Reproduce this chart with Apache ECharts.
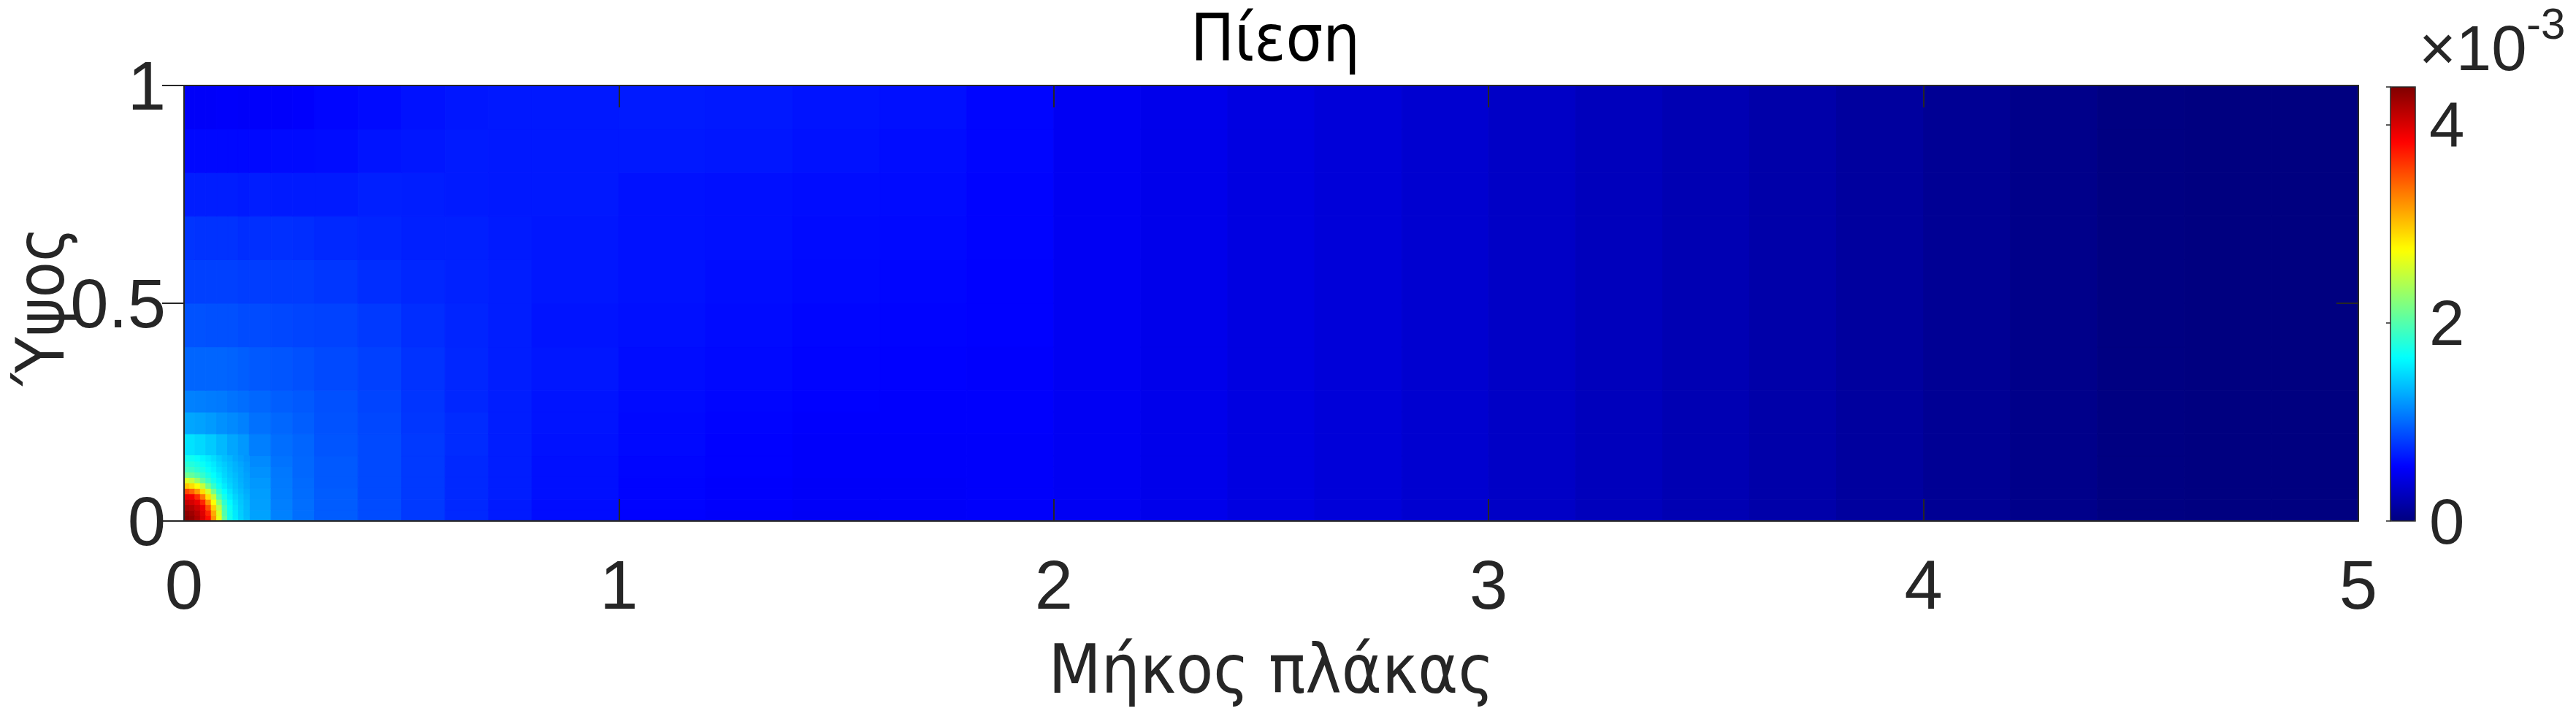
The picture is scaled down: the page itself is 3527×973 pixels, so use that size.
<!DOCTYPE html>
<html>
<head>
<meta charset="utf-8">
<script src="https://cdn.jsdelivr.net/npm/echarts@6/dist/echarts.min.js"></script>
<style>
  html, body { margin: 0; padding: 0; background: #ffffff; }
  #chart { width: 3527px; height: 973px; }
</style>
</head>
<body>
<div id="chart"></div>
<script>
// ---- Data ----
const titleText = 'Πίεση';
const xName = 'Μήκος πλάκας';
const yName = 'Ύψος';
const xTicks = [0, 1, 2, 3, 4, 5];
const yTicks = [0, 0.5, 1];
const colorTicks = [0, 2, 4];          // in units of 1e-3
const colorMin = 0;
const colorMax = 4.38;                 // top of colour bar, units of 1e-3
const colorExponent = '-3';

// coarse cell edges
const xEdges = [0, 0.025, 0.05, 0.075, 0.1, 0.125, 0.15, 0.2, 0.25, 0.3, 0.4, 0.5, 0.6, 0.7, 0.8, 1.0,
                1.2, 1.4, 1.6, 1.8, 2.0, 2.2, 2.4, 2.6, 2.8, 3.0, 3.2, 3.4, 3.6, 3.8, 4.0, 4.2, 4.4, 4.6, 4.8, 5.0];
const yEdges = [0, 0.025, 0.05, 0.075, 0.1, 0.125, 0.15, 0.2, 0.25, 0.3, 0.4, 0.5, 0.6, 0.7, 0.8, 0.9, 1.0];

// coarse pressure per cell (units of 1e-3), rows from bottom (y=0) to top (y=1)
const row00 = [4.33,4.08,3.66,2.43,1.70,1.45,1.24,1.10,1.02,0.94,0.87,0.79,0.72,0.66,0.60,0.55,0.53,0.51,0.52,0.53,0.50,0.46,0.42,0.385,0.345,0.30,0.26,0.22,0.175,0.13,0.085,0.045,0.01,0,0];
const row01 = [4.19,3.93,3.37,2.27,1.66,1.43,1.23,1.09,1.02,0.94,0.87,0.79,0.72,0.66,0.60,0.56,0.54,0.52,0.52,0.53,0.50,0.46,0.42,0.385,0.345,0.30,0.26,0.22,0.175,0.13,0.085,0.045,0.01,0,0];
const row02 = [3.88,3.70,2.84,1.98,1.57,1.38,1.22,1.08,1.01,0.94,0.86,0.79,0.72,0.67,0.61,0.56,0.54,0.52,0.52,0.53,0.50,0.46,0.42,0.385,0.345,0.30,0.26,0.22,0.175,0.13,0.085,0.045,0.01,0,0];
const row03 = [3.29,2.87,2.22,1.70,1.49,1.33,1.20,1.07,1.00,0.93,0.86,0.79,0.72,0.67,0.61,0.56,0.54,0.52,0.52,0.53,0.50,0.46,0.42,0.385,0.345,0.30,0.26,0.22,0.175,0.13,0.085,0.045,0.01,0,0];
const row04 = [2.32,2.09,1.77,1.55,1.40,1.29,1.17,1.06,0.99,0.93,0.86,0.79,0.72,0.67,0.61,0.57,0.55,0.53,0.53,0.53,0.50,0.46,0.42,0.385,0.345,0.30,0.26,0.22,0.175,0.13,0.085,0.045,0.01,0,0];
const row05 = [1.73,1.65,1.53,1.42,1.31,1.23,1.14,1.04,0.99,0.93,0.86,0.79,0.72,0.67,0.61,0.57,0.55,0.53,0.53,0.53,0.50,0.46,0.42,0.385,0.345,0.30,0.26,0.22,0.175,0.13,0.085,0.045,0.01,0,0];
const row06 = [1.52,1.48,1.42,1.34,1.26,1.20,1.09,1.02,0.98,0.91,0.86,0.79,0.73,0.67,0.62,0.58,0.55,0.53,0.53,0.53,0.50,0.46,0.42,0.385,0.345,0.30,0.26,0.22,0.175,0.13,0.085,0.045,0.01,0,0];
const row07 = [1.26,1.24,1.21,1.17,1.14,1.10,1.03,0.99,0.95,0.90,0.85,0.78,0.73,0.67,0.63,0.58,0.56,0.54,0.54,0.54,0.50,0.46,0.42,0.385,0.345,0.30,0.26,0.22,0.175,0.13,0.085,0.045,0.01,0,0];
const row08 = [1.10,1.09,1.08,1.07,1.04,1.02,0.99,0.95,0.93,0.89,0.84,0.77,0.71,0.67,0.63,0.59,0.57,0.55,0.54,0.54,0.50,0.46,0.42,0.385,0.345,0.30,0.26,0.22,0.175,0.13,0.085,0.045,0.01,0,0];
const row09 = [0.98,0.98,0.98,0.98,0.97,0.95,0.93,0.91,0.89,0.86,0.82,0.76,0.71,0.67,0.64,0.60,0.58,0.56,0.55,0.54,0.50,0.46,0.42,0.385,0.345,0.30,0.26,0.22,0.175,0.13,0.085,0.045,0.01,0,0];
const row10 = [0.90,0.90,0.89,0.89,0.89,0.87,0.87,0.85,0.84,0.83,0.79,0.74,0.70,0.67,0.63,0.61,0.59,0.57,0.56,0.55,0.50,0.46,0.42,0.385,0.345,0.30,0.26,0.22,0.175,0.13,0.085,0.045,0.01,0,0];
const row11 = [0.82,0.82,0.82,0.82,0.82,0.81,0.81,0.80,0.80,0.78,0.74,0.71,0.69,0.67,0.64,0.62,0.60,0.58,0.57,0.55,0.50,0.46,0.42,0.385,0.345,0.30,0.26,0.22,0.175,0.13,0.085,0.045,0.01,0,0];
const row12 = [0.77,0.76,0.76,0.76,0.76,0.74,0.75,0.75,0.74,0.72,0.70,0.68,0.68,0.66,0.64,0.62,0.61,0.59,0.58,0.56,0.50,0.46,0.42,0.385,0.345,0.30,0.26,0.22,0.175,0.13,0.085,0.045,0.01,0,0];
const row13 = [0.67,0.67,0.67,0.67,0.67,0.66,0.67,0.66,0.66,0.66,0.68,0.67,0.66,0.65,0.65,0.62,0.61,0.60,0.59,0.56,0.50,0.46,0.42,0.385,0.345,0.30,0.26,0.22,0.175,0.13,0.085,0.045,0.01,0,0];
const row14 = [0.58,0.58,0.58,0.58,0.58,0.58,0.58,0.59,0.59,0.60,0.63,0.64,0.66,0.65,0.65,0.65,0.64,0.62,0.60,0.57,0.50,0.46,0.42,0.385,0.345,0.30,0.26,0.22,0.175,0.13,0.085,0.045,0.01,0,0];
const row15 = [0.52,0.52,0.52,0.53,0.53,0.52,0.53,0.53,0.54,0.57,0.59,0.62,0.64,0.65,0.65,0.66,0.65,0.63,0.61,0.57,0.50,0.46,0.42,0.385,0.345,0.30,0.26,0.22,0.175,0.13,0.085,0.045,0.01,0,0];
const pressureRows = [row00,row01,row02,row03,row04,row05,row06,row07,row08,row09,row10,row11,row12,row13,row14,row15];

// fine cells around the hot spot at the leading edge (x < 0.15, y < 0.15)
const fineEdges = [0, 0.0125, 0.025, 0.0375, 0.05, 0.0625, 0.075, 0.0875, 0.1, 0.1125, 0.125, 0.1375, 0.15];
const fine00 = [4.35,4.30,4.18,4.01,3.78,3.20,2.64,2.06,1.73,1.56,1.44,1.36];
const fine01 = [4.31,4.25,4.14,3.97,3.68,3.11,2.58,1.99,1.71,1.55,1.43,1.35];
const fine02 = [4.21,4.16,4.05,3.90,3.49,2.94,2.45,1.93,1.68,1.53,1.42,1.34];
const fine03 = [4.08,4.02,3.92,3.67,3.22,2.73,2.24,1.83,1.63,1.50,1.40,1.33];
const fine04 = [3.91,3.87,3.65,3.31,2.87,2.48,1.98,1.73,1.57,1.46,1.38,1.31];
const fine05 = [3.53,3.41,3.18,2.87,2.56,2.13,1.82,1.64,1.52,1.42,1.35,1.29];
const fine06 = [2.98,2.88,2.72,2.49,2.14,1.87,1.69,1.56,1.46,1.39,1.32,1.26];
const fine07 = [2.58,2.49,2.30,2.05,1.88,1.72,1.61,1.51,1.43,1.37,1.30,1.25];
const fine08 = [2.12,2.07,1.98,1.86,1.75,1.65,1.56,1.47,1.40,1.35,1.29,1.24];
const fine09 = [1.92,1.89,1.82,1.75,1.67,1.59,1.51,1.45,1.38,1.32,1.28,1.22];
const fine10 = [1.82,1.79,1.74,1.68,1.61,1.55,1.47,1.42,1.36,1.31,1.26,1.21];
const fine11 = [1.72,1.70,1.66,1.61,1.56,1.50,1.43,1.37,1.33,1.27,1.23,1.19];
const fineRows = [fine00,fine01,fine02,fine03,fine04,fine05,fine06,fine07,fine08,fine09,fine10,fine11];

// jet colour map stops
const jetColors = ['#000080','#0000ff','#0080ff','#00ffff','#80ff80','#ffff00','#ff8000','#ff0000','#800000'];

// ---- Build cell list for the custom series ----
const fineLimit = fineEdges[fineEdges.length - 1];
const cells = [];
pressureRows.forEach((row, j) => {
  row.forEach((v, i) => {
    const covered = xEdges[i + 1] <= fineLimit && yEdges[j + 1] <= fineLimit;
    if (!covered) cells.push([xEdges[i], xEdges[i + 1], yEdges[j], yEdges[j + 1], v]);
  });
});
fineRows.forEach((row, j) => {
  row.forEach((v, i) => {
    cells.push([fineEdges[i], fineEdges[i + 1], fineEdges[j], fineEdges[j + 1], v]);
  });
});

const TXT = '#262626';
const tickFont = '"Liberation Sans", Arial, Helvetica, sans-serif';
const labelFont = '"DejaVu Sans Condensed", "DejaVu Sans", sans-serif';

function frameAxis(extra) {
  return Object.assign({
    axisLine: { show: true, onZero: false, lineStyle: { color: TXT, width: 2 } },
    axisTick: { show: true, inside: true, length: 30, lineStyle: { color: TXT, width: 2 } },
    splitLine: { show: false },
    z: 10
  }, extra);
}

const chart = echarts.init(document.getElementById('chart'), null, { renderer: 'svg' });

chart.setOption({
  animation: false,
  backgroundColor: '#ffffff',
  title: {
    text: titleText,
    left: 1741,
    top: 2,
    textAlign: 'center',
    textStyle: { fontFamily: labelFont, fontSize: 89, fontWeight: 'normal', color: '#000000' }
  },
  grid: [
    { left: 252, top: 117, width: 2977, height: 596, containLabel: false, outerBoundsMode: 'none' },
    { left: 3273, top: 119, width: 34, height: 594, containLabel: false, outerBoundsMode: 'none',
      show: true, borderColor: TXT, borderWidth: 1.5, backgroundColor: 'transparent', z: 10 }
  ],
  xAxis: [
    frameAxis({
      gridIndex: 0, type: 'value', position: 'bottom', min: xTicks[0], max: xTicks[xTicks.length - 1], interval: 1,
      axisLabel: { show: true, fontSize: 94, fontFamily: tickFont, color: TXT, margin: 40 },
      name: xName, nameLocation: 'middle', nameGap: 156,
      nameTextStyle: { fontSize: 93, fontFamily: labelFont, color: TXT }
    }),
    frameAxis({
      gridIndex: 0, type: 'value', position: 'top', min: xTicks[0], max: xTicks[xTicks.length - 1], interval: 1,
      axisLabel: { show: false }
    }),
    { gridIndex: 1, type: 'value', min: 0, max: 1, show: false }
  ],
  yAxis: [
    frameAxis({
      gridIndex: 0, type: 'value', position: 'left', min: yTicks[0], max: yTicks[yTicks.length - 1], interval: 0.5,
      axisTick: { show: true, inside: true, length: -30, lineStyle: { color: TXT, width: 2 } },
      axisLabel: { show: true, fontSize: 94, fontFamily: tickFont, color: TXT, margin: 25 }
    }),
    frameAxis({
      gridIndex: 0, type: 'value', position: 'right', min: yTicks[0], max: yTicks[yTicks.length - 1], interval: 0.5,
      axisLabel: { show: false }
    }),
    {
      gridIndex: 1, type: 'value', position: 'right', min: colorMin, max: colorMax, interval: 2,
      axisLine: { show: false },
      axisTick: { show: true, inside: true, length: 6, lineStyle: { color: TXT, width: 1.5 } },
      splitLine: { show: false },
      axisLabel: { show: true, fontSize: 87, fontFamily: tickFont, color: TXT, margin: 19,
        formatter: v => (colorTicks.indexOf(v) >= 0 ? String(v) : '') },
      z: 10
    }
  ],
  visualMap: {
    type: 'continuous',
    seriesIndex: 0,
    dimension: 4,
    min: colorMin,
    max: colorMax,
    orient: 'vertical',
    left: 3273,
    top: 119,
    itemWidth: 34,
    itemHeight: 594,
    padding: 0,
    calculable: false,
    realtime: false,
    hoverLink: false,
    showLabel: false,
    text: null,
    inRange: { color: jetColors },
    z: 4
  },
  graphic: [
    { type: 'text', x: 55, y: 419, rotation: Math.PI / 2, z: 20,
      style: { text: yName, fontSize: 90, fontFamily: labelFont, fill: TXT, align: 'center', verticalAlign: 'middle' } },
    { type: 'text', x: 3312, y: 65, z: 20,
      style: { text: '×10', fontSize: 87, fontFamily: tickFont, fill: TXT, align: 'left', verticalAlign: 'middle' } },
    { type: 'text', x: 3459, y: 2, z: 20,
      style: { text: colorExponent, fontSize: 60, fontFamily: tickFont, fill: TXT, align: 'left', verticalAlign: 'top' } }
  ],
  series: [{
    type: 'custom',
    xAxisIndex: 0,
    yAxisIndex: 0,
    clip: true,
    z: 1,
    encode: { x: [0, 1], y: [2, 3] },
    data: cells,
    renderItem: function (params, api) {
      const p0 = api.coord([api.value(0), api.value(3)]);
      const p1 = api.coord([api.value(1), api.value(2)]);
      const c = api.visual('color');
      return {
        type: 'rect',
        shape: { x: p0[0], y: p0[1], width: p1[0] - p0[0], height: p1[1] - p0[1] },
        style: { fill: c, stroke: c, lineWidth: 1 }
      };
    }
  }]
});
</script>
</body>
</html>
